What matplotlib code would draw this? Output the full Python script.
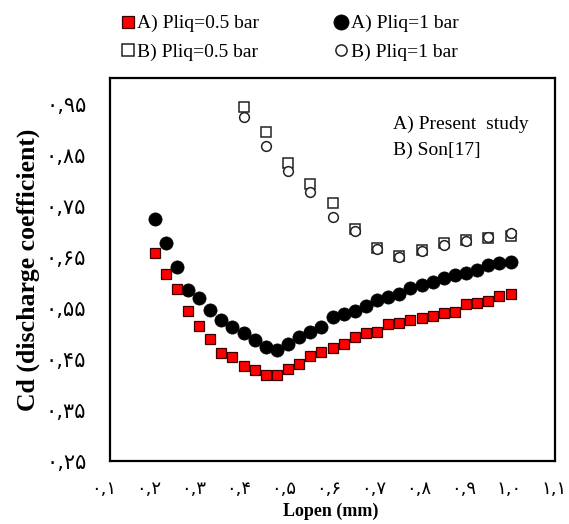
import numpy as np
import matplotlib
matplotlib.use("Agg")
import matplotlib.pyplot as plt

plt.rcParams['font.family'] = ['Liberation Serif', 'DejaVu Sans']

# Present study (A): measured discharge coefficient vs opening length
lopen_a = [0.200, 0.225, 0.250, 0.275, 0.300, 0.325, 0.350, 0.375, 0.400, 0.425, 0.450,
           0.475, 0.500, 0.525, 0.550, 0.575, 0.600, 0.625, 0.650, 0.675, 0.700, 0.725,
           0.750, 0.775, 0.800, 0.825, 0.850, 0.875, 0.900, 0.925, 0.950, 0.975, 1.000]
cd_a_05 = [0.657, 0.617, 0.586, 0.544, 0.514, 0.488, 0.462, 0.453, 0.436, 0.428, 0.418,
           0.418, 0.430, 0.440, 0.456, 0.464, 0.471, 0.480, 0.493, 0.500, 0.503, 0.518,
           0.521, 0.527, 0.531, 0.534, 0.539, 0.542, 0.557, 0.560, 0.564, 0.574, 0.578]
cd_a_1 = [0.723, 0.676, 0.629, 0.585, 0.569, 0.546, 0.527, 0.513, 0.500, 0.486, 0.474,
          0.467, 0.480, 0.493, 0.502, 0.513, 0.532, 0.538, 0.544, 0.554, 0.565, 0.572,
          0.578, 0.588, 0.594, 0.600, 0.609, 0.614, 0.619, 0.624, 0.634, 0.638, 0.640]

# Son[17] (B)
lopen_b = [0.40, 0.45, 0.50, 0.55, 0.60, 0.65, 0.70, 0.75, 0.80, 0.85, 0.90, 0.95, 1.00]
cd_b_05 = [0.944, 0.894, 0.834, 0.792, 0.755, 0.704, 0.668, 0.651, 0.663, 0.676, 0.683,
           0.686, 0.691]
cd_b_1 = [0.924, 0.867, 0.818, 0.777, 0.728, 0.700, 0.665, 0.649, 0.662, 0.673, 0.681,
          0.688, 0.697]

y_ticks = [0.25, 0.35, 0.45, 0.55, 0.65, 0.75, 0.85, 0.95]
y_labels = ['۰,۲۵', '۰,۳۵', '۰,۴۵', '۰,۵۵', '۰,۶۵', '۰,۷۵', '۰,۸۵', '۰,۹۵']
x_ticks = [0.1, 0.2, 0.3, 0.4, 0.5, 0.6, 0.7, 0.8, 0.9, 1.0, 1.1]
x_labels = ['۰,۱', '۰,۲', '۰,۳', '۰,۴', '۰,۵', '۰,۶', '۰,۷', '۰,۸', '۰,۹', '۱,۰', '۱,۱']

W, H = 569, 524
fig = plt.figure(figsize=(W / 100, H / 100), dpi=100)
ax = fig.add_axes([110 / W, (H - 461) / H, 445 / W, 383 / H])

h_b05, = ax.plot(lopen_b, cd_b_05, ls='none', marker='s', ms=7.5, mfc='white',
                 mec='#222222', mew=1.1, label='B) Pliq=0.5 bar')
h_b1, = ax.plot(lopen_b, cd_b_1, ls='none', marker='o', ms=7, mfc='white',
                mec='#222222', mew=1.1, label='B) Pliq=1 bar')
h_a1, = ax.plot(lopen_a, cd_a_1, ls='none', marker='o', ms=9.5, mfc='black',
                mec='black', mew=0.5, label='A) Pliq=1 bar')
h_a05, = ax.plot(lopen_a, cd_a_05, ls='none', marker='s', ms=7.5, mfc='#ff0000',
                 mec='#3a0000', mew=0.9, label='A) Pliq=0.5 bar')

ax.set_xlim(0.1, 1.1)
ax.set_ylim(0.25, 1.0)
ax.set_yticks(y_ticks)
ax.set_yticklabels(y_labels, fontsize=15, family='DejaVu Sans')
ax.tick_params(axis='y', length=0, pad=17)
ax.set_xticks([])
for s in ax.spines.values():
    s.set_linewidth(1.6)
    s.set_color('black')
ax.set_ylabel('Cd (discharge coefficient)', fontsize=18.5, fontweight='bold', labelpad=4)

# x tick labels sit on their own strip below the frame
ax_x = fig.add_axes([104 / W, (H - 490) / H, 450 / W, 0.001])
ax_x.set_xlim(0.1, 1.1)
ax_x.set_xticks(x_ticks)
ax_x.set_xticklabels(x_labels, fontsize=13, family='DejaVu Sans')
ax_x.tick_params(axis='x', length=0, pad=-7)
ax_x.set_yticks([])
for s in ax_x.spines.values():
    s.set_visible(False)
ax_x.patch.set_visible(False)

fig.text(331 / W, 1 - 511 / H, 'Lopen (mm)', fontsize=13, fontweight='bold',
         ha='center', va='center')

ax.text(393 / W, 1 - 124 / H, 'A) Present  study', fontsize=14,
        transform=fig.transFigure, va='center')
ax.text(393 / W, 1 - 150 / H, 'B) Son[17]', fontsize=14,
        transform=fig.transFigure, va='center')

fig.legend(handles=[h_a05, h_b05, h_a1, h_b1], ncol=2, loc='upper left',
           bbox_to_anchor=(112 / W, 1 - 7 / H), frameon=False, fontsize=14,
           handlelength=0.8, handletextpad=0.1, columnspacing=3.8, markerscale=1.15,
           labelspacing=0.55, borderaxespad=0)

fig.savefig('out.png', dpi=100)
